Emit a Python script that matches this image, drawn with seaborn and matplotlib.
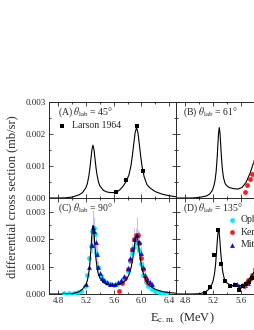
import numpy as np
import matplotlib
matplotlib.use("Agg")
import matplotlib.pyplot as plt
from matplotlib.ticker import MultipleLocator, FormatStrFormatter
import seaborn as sns

# values in units of 1e-3 mb/sr
# (A) 45 deg
a_x = [4.67, 4.8, 4.9, 5.0, 5.1, 5.15, 5.2, 5.22, 5.24, 5.255, 5.27, 5.285, 5.30, 5.315, 5.33, 5.345, 5.36,
       5.38, 5.40, 5.45, 5.50, 5.55, 5.60, 5.65, 5.70, 5.74, 5.78, 5.82, 5.85, 5.87, 5.89, 5.91, 5.93,
       5.95, 5.97, 5.99, 6.01, 6.04, 6.08, 6.12, 6.20, 6.30, 6.40, 6.50]
a_y = [0.0, 0.0, 0.005, 0.03, 0.10, 0.17, 0.33, 0.46, 0.68, 0.91, 1.21, 1.51, 1.65, 1.51, 1.22, 0.93, 0.71,
       0.50, 0.38, 0.24, 0.19, 0.17, 0.17, 0.19, 0.28, 0.38, 0.52, 0.72, 1.02, 1.33, 1.70, 2.05, 2.20,
       2.04, 1.68, 1.30, 0.98, 0.66, 0.42, 0.32, 0.20, 0.12, 0.07, 0.04]
larson_x = [5.64, 5.78, 5.93, 6.02]
larson_y = [0.19, 0.57, 2.24, 0.83]

# (B) 61 deg
b_x = [4.67, 4.9, 5.0, 5.1, 5.15, 5.19, 5.21, 5.23, 5.245, 5.26, 5.27, 5.28, 5.29, 5.30, 5.31, 5.32, 5.335,
       5.35, 5.37, 5.39, 5.43, 5.50, 5.56, 5.62, 5.68, 5.74, 5.80, 5.86, 5.92, 5.98, 6.05, 6.15, 6.3, 6.5]
b_y = [0.0, 0.0, 0.02, 0.06, 0.12, 0.24, 0.36, 0.56, 0.83, 1.27, 1.66, 2.03, 2.20, 2.05, 1.70, 1.32, 0.90,
       0.65, 0.48, 0.40, 0.33, 0.29, 0.28, 0.33, 0.50, 0.80, 1.20, 1.90, 2.40, 1.90, 1.00, 0.45, 0.18, 0.06]
b_kerr_x = [5.66, 5.695, 5.73, 5.77, 5.80]
b_kerr_y = [0.19, 0.42, 0.58, 0.75, 1.14]

# (C) 90 deg
c_x = [4.67, 4.9, 5.0, 5.1, 5.15, 5.2, 5.22, 5.24, 5.255, 5.27, 5.28, 5.29, 5.30, 5.31, 5.32, 5.33, 5.345,
       5.36, 5.38, 5.40, 5.45, 5.50, 5.55, 5.60, 5.65, 5.70, 5.74, 5.78, 5.82, 5.85, 5.87, 5.89, 5.91,
       5.93, 5.95, 5.97, 5.99, 6.01, 6.04, 6.08, 6.12, 6.20, 6.30, 6.40, 6.50]
c_y = [0.0, 0.0, 0.01, 0.08, 0.18, 0.35, 0.50, 0.77, 1.10, 1.60, 2.00, 2.35, 2.50, 2.37, 2.05, 1.70, 1.25,
       0.95, 0.70, 0.58, 0.43, 0.36, 0.32, 0.32, 0.34, 0.37, 0.42, 0.52, 0.70, 0.95, 1.20, 1.55, 1.95,
       2.15, 1.95, 1.55, 1.20, 0.92, 0.65, 0.42, 0.30, 0.17, 0.09, 0.05, 0.03]
c_oph_x = [4.88, 4.95, 5.02, 5.08, 5.13, 5.18, 5.22, 5.25, 5.27, 5.29, 5.31, 5.33, 5.35, 5.38, 5.42, 5.46,
           5.50, 5.55, 5.60, 5.65, 5.70, 5.75, 5.80, 5.84, 5.87, 5.90, 5.93, 5.96, 5.99, 6.02, 6.06, 6.10,
           6.15, 6.20, 6.25, 6.30, 6.35]
c_oph_y = [0.03, 0.04, 0.04, 0.06, 0.10, 0.30, 0.70, 1.30, 1.75, 2.30, 2.40, 2.20, 1.50, 1.00, 0.65, 0.48,
           0.40, 0.35, 0.33, 0.36, 0.44, 0.60, 0.85, 1.20, 1.50, 1.70, 1.85, 1.60, 1.10, 0.70, 0.45, 0.30,
           0.20, 0.12, 0.08, 0.05, 0.04]
c_mit_x = [5.20, 5.25, 5.28, 5.30, 5.32, 5.34, 5.36, 5.38, 5.40, 5.43, 5.46, 5.50, 5.54, 5.58, 5.62, 5.66,
           5.70, 5.75, 5.80, 5.84, 5.87, 5.90, 5.93, 5.96, 5.99, 6.02, 6.05, 6.08, 6.12, 6.15]
c_mit_y = [0.35, 1.00, 1.80, 2.45, 2.30, 1.90, 1.45, 1.00, 0.75, 0.60, 0.50, 0.42, 0.38, 0.35, 0.37, 0.42,
           0.50, 0.65, 0.95, 1.30, 1.65, 2.00, 2.15, 1.90, 1.50, 1.00, 0.70, 0.55, 0.45, 0.35]
c_mit_err = [0.05, 0.1, 0.3, 0.6, 0.5, 0.4, 0.35, 0.2, 0.1, 0.08, 0.06, 0.05, 0.05, 0.05, 0.05, 0.05,
             0.05, 0.06, 0.1, 0.15, 0.2, 0.4, 0.65, 0.4, 0.25, 0.2, 0.18, 0.15, 0.12, 0.1]
c_kerr_x = [5.68, 5.72, 5.76, 5.80, 5.84, 5.87, 5.90, 5.92, 5.95, 5.97, 6.00, 6.03, 6.06, 6.09]
c_kerr_y = [0.12, 0.40, 0.60, 0.90, 1.25, 1.65, 2.00, 2.15, 2.15, 1.85, 1.30, 0.90, 0.55, 0.40]
c_kerr_err = [0.03, 0.04, 0.05, 0.07, 0.1, 0.12, 0.15, 0.25, 0.2, 0.15, 0.1, 0.08, 0.05, 0.04]

# (D) 135 deg
d_x = [4.67, 4.9, 5.0, 5.08, 5.14, 5.18, 5.20, 5.22, 5.235, 5.25, 5.26, 5.27, 5.28, 5.29, 5.30, 5.31,
       5.325, 5.34, 5.36, 5.39, 5.43, 5.48, 5.55, 5.62, 5.70, 5.78, 5.85, 5.92, 6.0, 6.1, 6.3, 6.5]
d_y = [0.0, 0.0, 0.01, 0.06, 0.17, 0.33, 0.47, 0.72, 1.03, 1.50, 1.88, 2.20, 2.35, 2.22, 1.92, 1.56,
       1.12, 0.82, 0.58, 0.43, 0.35, 0.31, 0.28, 0.32, 0.45, 0.75, 1.10, 1.40, 1.20, 0.60, 0.15, 0.05]
d_sq_x = [5.08, 5.16, 5.22, 5.27, 5.32, 5.37, 5.45, 5.52, 5.58, 5.63, 5.68, 5.72, 5.76]
d_sq_y = [0.05, 0.25, 1.42, 2.32, 1.10, 0.48, 0.30, 0.32, 0.15, 0.30, 0.35, 0.45, 0.60]
d_kerr_x = [5.65, 5.68, 5.71, 5.74, 5.77, 5.80]
d_kerr_y = [0.30, 0.40, 0.50, 0.55, 0.70, 0.90]
d_mit_x = [5.50, 5.54, 5.58, 5.62, 5.66, 5.70]
d_mit_y = [0.35, 0.35, 0.30, 0.32, 0.33, 0.40]

labels = ["(A) $\\theta_{\\rm lab}$ = 45\u00b0", "(B) $\\theta_{\\rm lab}$ = 61\u00b0",
          "(C) $\\theta_{\\rm lab}$ = 90\u00b0", "(D) $\\theta_{\\rm lab}$ = 135\u00b0"]

sns.set_style("ticks")
plt.rcParams['font.family'] = ['Liberation Serif', 'DejaVu Serif']
plt.rcParams['mathtext.fontset'] = 'stix'
plt.rcParams['xtick.direction'] = 'in'
plt.rcParams['ytick.direction'] = 'in'

s = 1e-3
cyan = '#00eeff'
red = '#ff1a1a'
blue = '#1010e0'
errc = '#b8b8f0'

fig = plt.figure(figsize=(2.55, 3.30), dpi=100)
W, H = 255, 330
def pos(l, t, r, b):
    return [l / W, 1 - b / H, (r - l) / W, (b - t) / H]

ax_a = fig.add_axes(pos(49, 102, 176, 198))
ax_b = fig.add_axes(pos(176, 102, 303, 198))
ax_c = fig.add_axes(pos(49, 198, 176, 294))
ax_d = fig.add_axes(pos(176, 198, 303, 294))

ms = 12
# A
sns.lineplot(x=a_x, y=np.array(a_y) * s, ax=ax_a, color='k', lw=0.8, sort=False)
sns.scatterplot(x=larson_x, y=np.array(larson_y) * s, ax=ax_a, color='k', marker='s', s=ms, linewidth=0,
                label='Larson 1964', zorder=5)
# B
sns.lineplot(x=b_x, y=np.array(b_y) * s, ax=ax_b, color='k', lw=0.8, sort=False)
sns.scatterplot(x=b_kerr_x, y=np.array(b_kerr_y) * s, ax=ax_b, color=red, marker='o', s=ms, linewidth=0, zorder=5)
# C
ax_c.errorbar(c_mit_x, np.array(c_mit_y) * s, yerr=np.array(c_mit_err) * s, fmt='none', ecolor=errc, elinewidth=0.6, zorder=1)
ax_c.errorbar(c_kerr_x, np.array(c_kerr_y) * s, yerr=np.array(c_kerr_err) * s, fmt='none', ecolor=errc, elinewidth=0.6, zorder=1)
sns.scatterplot(x=c_oph_x, y=np.array(c_oph_y) * s, ax=ax_c, color=cyan, marker='o', s=ms, linewidth=0, zorder=3)
sns.scatterplot(x=c_kerr_x, y=np.array(c_kerr_y) * s, ax=ax_c, color=red, marker='o', s=ms, linewidth=0, zorder=4)
sns.scatterplot(x=c_mit_x, y=np.array(c_mit_y) * s, ax=ax_c, color=blue, marker='^', s=ms, linewidth=0, zorder=5)
sns.lineplot(x=c_x, y=np.array(c_y) * s, ax=ax_c, color='k', lw=0.8, sort=False, zorder=6)
# D
sns.scatterplot(x=d_mit_x, y=np.array(d_mit_y) * s, ax=ax_d, color=blue, marker='^', s=ms, linewidth=0, zorder=3)
sns.scatterplot(x=d_kerr_x, y=np.array(d_kerr_y) * s, ax=ax_d, color=red, marker='o', s=ms, linewidth=0, zorder=4)
sns.scatterplot(x=d_sq_x, y=np.array(d_sq_y) * s, ax=ax_d, color='k', marker='s', s=ms, linewidth=0, zorder=5)
sns.lineplot(x=d_x, y=np.array(d_y) * s, ax=ax_d, color='k', lw=0.8, sort=False, zorder=6)
ax_d.scatter([], [], color=cyan, marker='o', s=ms, linewidth=0, label='Ophel')
ax_d.scatter([], [], color=red, marker='o', s=ms, linewidth=0, label='Kerr')
ax_d.scatter([], [], color=blue, marker='^', s=ms, linewidth=0, label='Mitchell')

for i, ax in enumerate([ax_a, ax_b, ax_c, ax_d]):
    ax.set_xlim(4.665, 6.5)
    ax.set_ylim(0, 0.003 if i < 2 else 0.0035)
    ax.xaxis.set_major_locator(MultipleLocator(0.4))
    ax.xaxis.set_minor_locator(MultipleLocator(0.2))
    ax.yaxis.set_major_locator(MultipleLocator(0.001))
    ax.yaxis.set_minor_locator(MultipleLocator(0.0005))
    ax.xaxis.set_major_formatter(FormatStrFormatter('%.1f'))
    ax.yaxis.set_major_formatter(FormatStrFormatter('%.3f'))
    ax.tick_params(which='both', top=True, right=True, labelsize=6.5, pad=2, width=0.6)
    ax.tick_params(which='major', length=3)
    ax.tick_params(which='minor', length=1.5)
    for sp in ax.spines.values():
        sp.set_linewidth(0.7)
    ax.set_xlabel('')
    ax.set_ylabel('')
    if i < 2:
        ax.tick_params(labelbottom=False)
    if i % 2 == 1:
        ax.tick_params(labelleft=False)
    tx = 0.07 if i % 2 == 0 else 0.053
    ax.text(tx, 0.965, labels[i], transform=ax.transAxes, ha='left', va='top', fontsize=7)

ax_a.legend(loc='upper left', bbox_to_anchor=(0.04, 0.84), frameon=False, fontsize=7,
            handlelength=0.8, handletextpad=0.6, borderaxespad=0)
ax_d.legend(loc='upper left', bbox_to_anchor=(0.38, 0.86), frameon=False, fontsize=7,
            handlelength=0.8, handletextpad=0.5, labelspacing=0.35, borderaxespad=0)

fig.text(12 / W, 1 - 197 / H, 'differential cross section (mb/sr)', rotation=90, ha='center', va='center', fontsize=9)
fig.text(182 / W, 1 - 318 / H, 'E$_{\\rm c.m.}$ (MeV)', ha='center', va='center', fontsize=9)

plt.savefig('out.png', dpi=100)
